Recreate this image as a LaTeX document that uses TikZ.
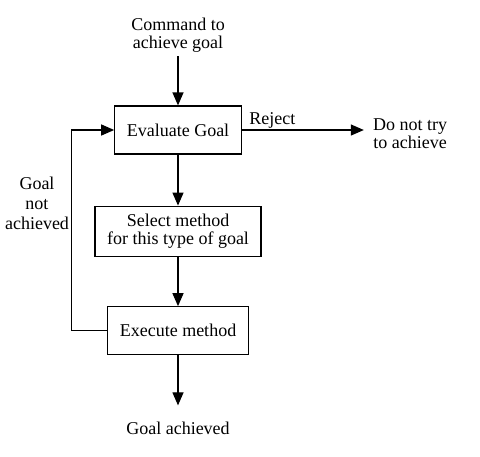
\documentclass[tikz,border=0pt]{standalone}
\usepackage{fontspec}
\setmainfont{Liberation Serif}
\usetikzlibrary{positioning,arrows.meta}

\tikzset{
    box/.style={draw, line width=1.2pt, inner xsep=12pt, inner ysep=8pt,
        minimum height=48pt, align=center},
    lbl/.style={inner sep=4pt, align=center},
    flow/.style={line width=1.2pt, -{Triangle[length=13pt,width=11pt]}},
}

\begin{document}
\begin{tikzpicture}[x=1pt, y=-1pt, node distance=50pt,
    font=\fontsize{18}{18}\selectfont]
    \useasboundingbox (0,0) rectangle (480,456);
    \node [box] at (178,130) (eval) {Evaluate Goal};
    \node [lbl, above=49pt of eval] (cmd) {Command to\\achieve goal};
    \node [box, below=51pt of eval] (select) {Select method\\for this type of goal};
    \node [box, below=49pt of select] (exec) {Execute method};
    \node [lbl, below=62pt of exec] (done) {Goal achieved};
    \node [lbl, right=of eval, xshift=77pt, yshift=-3.5pt] (dont) {Do not try\\to achieve};
    \node [lbl, font=\fontsize{18}{20}\selectfont] at (37,203) (notach) {Goal\\not\\achieved};

    \draw [flow] (cmd) -- (eval);
    \draw [flow] (eval) -- (select);
    \draw [flow] (select) -- (exec);
    \draw [flow, shorten >=12pt] (exec) -- (done);
    \draw [flow, shorten >=5pt] (eval.east) -- node [above, pos=0.24, inner sep=1pt] {Reject} (eval.east -| dont.west);
    \draw [flow] (exec.west) -- ++(-36,0) |- (eval.west);
\end{tikzpicture}
\end{document}
